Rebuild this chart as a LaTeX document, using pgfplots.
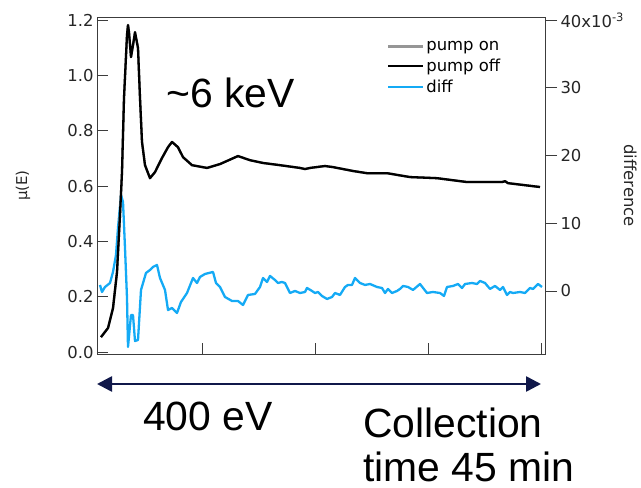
\documentclass[border=0pt]{standalone}
\usepackage{pgfplots}
\pgfplotsset{compat=1.18}
\usepackage{fontspec}
\setmainfont{DejaVu Sans}
\newfontfamily\arial{Liberation Sans}
\usetikzlibrary{arrows.meta}
\definecolor{diffblue}{RGB}{20,170,245}
\definecolor{pumpgray}{RGB}{150,150,150}
\definecolor{navy}{RGB}{16,24,74}
\definecolor{framec}{RGB}{60,60,60}

\pgfplotstableread{
x y
4 0.054
11 0.087
16 0.159
20 0.289
23 0.496
25 0.651
27 0.919
30 1.147
31 1.183
32 1.157
34 1.067
36 1.110
38 1.157
41 1.100
43 0.919
45 0.760
48 0.676
53 0.629
58 0.651
65 0.702
71 0.741
75 0.760
81 0.741
86 0.705
95 0.676
110 0.666
123 0.680
141 0.709
153 0.694
166 0.684
183 0.676
203 0.666
208 0.662
213 0.666
228 0.673
236 0.669
256 0.655
270 0.647
290 0.647
313 0.633
340 0.629
370 0.615
405 0.615
408 0.618
411 0.611
443 0.597
}\pumpoff

\pgfplotstableread{
x d
3 0.89
5 -0.15
8 0.59
13 1.18
16 2.81
19 5.32
21 9.31
24 14.18
26 13.15
28 6.35
30 -1.03
31 -8.27
34 -3.55
36 -3.55
38 -7.39
41 -7.24
44 0.15
49 2.66
53 3.10
56 3.55
60 3.84
63 1.92
68 0.15
71 -2.81
75 -2.51
80 -3.25
84 -1.62
90 -0.30
96 1.92
100 1.18
103 2.07
108 2.51
116 2.81
119 1.18
123 0.59
128 -0.89
135 -1.48
141 -1.48
146 -2.07
151 -0.59
158 -0.44
163 0.59
166 1.92
170 1.33
173 2.22
178 1.62
181 1.18
185 1.33
188 1.18
193 -0.30
198 0
203 -0.30
208 -0.15
210 0.44
215 0
218 -0.30
221 -0.15
225 -0.74
230 -1.18
235 -0.89
238 -0.30
243 -0.59
248 0.59
251 0.89
255 0.89
258 1.92
263 1.18
268 0.89
273 1.03
280 0.59
285 0.44
288 -0.30
291 0.30
295 -0.30
300 0
303 0.30
306 0.74
311 0.59
316 0.15
323 1.03
330 -0.30
336 -0.15
343 -0.30
347 -0.74
350 0.59
356 0.74
361 1.03
365 0.44
368 1.03
375 1.18
380 1.03
383 1.48
388 1.18
393 0.30
398 0.74
403 0.15
406 0.59
410 -0.59
413 -0.15
416 -0.30
423 -0.15
428 -0.30
433 0.44
436 0.30
441 1.03
445 0.59
}\diffdata

\begin{document}
\begin{tikzpicture}
\useasboundingbox (-97bp,-134bp) rectangle (544bp,354bp);
% right axis: difference
\begin{axis}[
  at={(0,0)}, anchor=south west,
  scale only axis, width=448bp, height=337bp,
  xmin=0, xmax=448, ymin=-9.31, ymax=40.47,
  axis y line*=right, axis x line=none,
  axis line style={framec, line width=0.8bp},
  ytick={0,10,20,30,40},
  yticklabels={0,10,20,30,{40x10\textsuperscript{-3}}},
  tick align=outside, major tick length=12bp,
  tick style={framec, line width=0.8bp},
  tick label style={font=\fontsize{16.5}{18}\selectfont, text=black!85},
  /pgf/number format/assume math mode=true,
  ylabel={difference},
  ylabel style={at={(axis description cs:1.19,0.5)}, anchor=center, rotate=180, font=\fontsize{16.5}{18}\selectfont, text=black!85},
]
\addplot[diffblue, line width=2.3bp, line join=round] table[x=x, y=d] {\diffdata};
\end{axis}
% left axis: mu(E)
\begin{axis}[
  at={(0,0)}, anchor=south west,
  scale only axis, width=448bp, height=337bp,
  xmin=0, xmax=448, ymin=-0.007, ymax=1.212,
  axis line style={framec, line width=0.8bp},
  xtick={105,218,331,444}, xticklabels={},
  xtick pos=bottom, ytick pos=left,
  ytick={0,0.2,0.4,0.6,0.8,1.0,1.2},
  yticklabel style={/pgf/number format/fixed, /pgf/number format/fixed zerofill, /pgf/number format/precision=1},
  tick align=inside, major tick length=11bp,
  tick style={framec, line width=0.8bp},
  tick label style={font=\fontsize{16.5}{18}\selectfont, text=black!85},
  /pgf/number format/assume math mode=true,
  ylabel={µ(E)},
  ylabel style={at={(axis description cs:-0.165,0.5)}, anchor=center, font=\fontsize{15}{17}\selectfont, text=black!85},
  legend style={at={(0.647,0.935)}, anchor=north west, draw=none, fill=none,
    font=\fontsize{16.5}{18}\selectfont, row sep=3bp, inner sep=0bp},
  legend cell align=left,
  legend image code/.code={\draw[#1] (0bp,0bp) -- (31bp,0bp); \path (0bp,0bp) -- (35bp,0bp);},
]
\addplot[pumpgray, line width=2.3bp, line join=round] table[x=x, y=y] {\pumpoff};
\addlegendentry{pump on}
\addplot[black, line width=2.3bp, line join=round] table[x=x, y=y] {\pumpoff};
\addlegendentry{pump off}
\addlegendimage{diffblue, line width=2.3bp}
\addlegendentry{diff}
\end{axis}
\node[anchor=base west, inner sep=0pt, font=\arial\fontsize{41}{46}\selectfont] at (69bp,246bp) {\char`\~6 keV};
\draw[navy, line width=2.6bp, {Triangle[length=15bp,width=15bp]}-{Triangle[length=15bp,width=15bp]}] (0bp,-30bp) -- (444bp,-30bp);
\node[anchor=base west, inner sep=0pt, font=\arial\fontsize{41}{46}\selectfont] at (46bp,-76bp) {400 eV};
\node[anchor=base west, inner sep=0pt, font=\arial\fontsize{41}{46}\selectfont] at (266bp,-83bp) {Collection};
\node[anchor=base west, inner sep=0pt, font=\arial\fontsize{41}{46}\selectfont] at (266bp,-127bp) {time 45 min};
\end{tikzpicture}
\end{document}
